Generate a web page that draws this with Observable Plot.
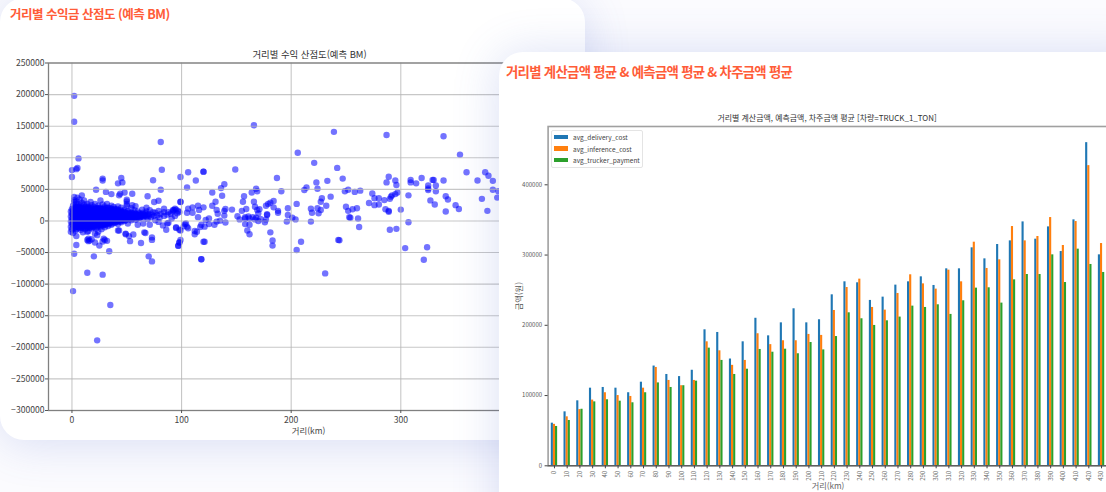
<!DOCTYPE html>
<html lang="ko">
<head>
<meta charset="utf-8">
<script src="https://cdn.jsdelivr.net/npm/d3@7"></script>
<script src="https://cdn.jsdelivr.net/npm/@observablehq/plot@0.6"></script>
<style>
  html, body { margin: 0; padding: 0; }
  body { width: 1106px; height: 492px; overflow: hidden; position: relative; background: #fbfbfe;
         font-family: "Noto Sans CJK KR", "Noto Sans", sans-serif; }
  .card { position: absolute; background: #fff; border-radius: 24px; }
  #cardA { left: 0; top: -2px; width: 585px; height: 442px; box-shadow: 0 4px 46px rgba(80,105,205,.2); z-index: 1; }
  #cardB { left: 499px; top: 52px; width: 660px; height: 500px; box-shadow: -2px 0 46px rgba(80,105,205,.2); z-index: 3; }
  .heading { position: absolute; color: #ff5c38; font-weight: 700; white-space: nowrap; line-height: 1; }
  #headA { left: 10px; top: 8px; font-size: 12.5px; letter-spacing: -0.5px; z-index: 2; }
  #headB { left: 506px; top: 65px; font-size: 13.4px; letter-spacing: -0.72px; z-index: 4; }
  .chartTitle { position: absolute; color: #333; white-space: nowrap; line-height: 1; transform: translateX(-50%); }
  #titleA { left: 309.5px; top: 50px; font-size: 9.4px; z-index: 2; }
  #titleB { left: 827px; top: 114px; font-size: 7.95px; z-index: 4; }
  #plotA { position: absolute; left: 0; top: 40px; z-index: 2; }
  #plotB { position: absolute; left: 500px; top: 100px; z-index: 4; }
  #plotA svg, #plotB svg { display: block; max-width: none; background: transparent; }
  #legend { position: absolute; left: 551px; top: 130px; width: 90px; height: 36px; border: 1px solid #e4e4e4; border-radius: 2px;
            background: #fff; z-index: 5; font-size: 6.5px; color: #444; }
  #legend .row { position: absolute; left: 2px; height: 8px; display: flex; align-items: center; gap: 5px; white-space: nowrap; }
  #legend .sw { width: 14px; height: 4.5px; display: inline-block; }
</style>
</head>
<body>
<div class="card" id="cardA"></div>
<div class="card" id="cardB"></div>
<div class="heading" id="headA">거리별 수익금 산점도 (예측 BM)</div>
<div class="heading" id="headB">거리별 계산금액 평균 &amp; 예측금액 평균 &amp; 차주금액 평균</div>
<div class="chartTitle" id="titleA">거리별 수익 산점도(예측 BM)</div>
<div class="chartTitle" id="titleB">거리별 계산금액, 예측금액, 차주금액 평균 [차량=TRUCK_1_TON]</div>
<div id="plotA"></div>
<div id="plotB"></div>
<div id="legend"></div>
<script>
// ---- scatter: [distance km, profit won] ----
const outlierPoints = [
  [2,198000],[2,157000],[6,99000],[81,125000],[82,81000],[0,80500],[4,82000],[5,84000],[0,69500],
  [28,67000],[28,64000],[22,49500],[45,68000],[42,59500],[46,61000],[31,46000],[36,42500],[43,40500],[44,43000],
  [48,45000],[55,43000],[50,33500],[50,31000],[69,39000],[74,64500],[81,49500],[75,30000],[79,32000],[99,69500],
  [105,53000],[106,77000],[113,64000],[120,78000],[99,30000],[149,81500],
  [4,-38000],[2,-52000],[20,-56000],[34,-48000],[14,-82000],[28,-85000],[1,-111000],[35,-133000],[23,-189000],
  [53,-32000],[63,-35000],[70,-56000],[73,-64000],[73,-30000],[97,-39500],[98,-34000],[118,-60500],[121,-33000],
  [14,-30000],[18,-29000],[21,-34000],[25,-39000],[28,-32500],[30,-30000],[32,-31500],[15,-32000],[16,-31000],
  [4,-24000],[15,-28000],[29,-28000],[73,-26000],[99,-30000],[14,-17000],[23,-22500],[42,-15000],[49,-21000],
  [56,-21500],[52,-24000],[66,-18000],[86,-14000],[95,-11000],[99,-15000],[112,-16000],[117,-9500],[104,-4000],
  [102,-8500],[79,-1500],[87,-4000],[67,-19000],[43,-15000],[49,-20000]
];
const denseCore = [
  [-1,-17000],[0,-13000],[1,-19000],[3,-15000],[-1,-9000],[0,-5000],[-1,-1000],[0,3000],[-1,7000],[0,11000],[-1,15000],[0,19000],[1,24000],[2,30000],[2,38000],[2,33000],[5,37000],[9,40500],
  [1,-8000],[2,-11000],[2,-4000],[1,0],[2,5000],[1,9000],[2,13000],[1,17000],[3,22000],[4,27000],[4,31000],[7,34000],
  [3,-7000],[4,-13000],[3,-2000],[4,2000],[3,6000],[4,10000],[3,14000],[4,18000],[6,22000],[6,26000],
  [6,-10000],[5,-5000],[6,-1000],[5,3000],[6,7000],[5,11000],[6,15000],[7,19000],[8,24000],[9,29000],[11,32500],
  [8,-14000],[7,-8000],[8,-3000],[7,1000],[8,5000],[7,9000],[8,13000],[9,17000],[10,21000],[11,26000],
  [10,-18000],[9,-11000],[10,-6000],[9,-1000],[10,3000],[9,7000],[10,11000],[11,15000],[12,19000],[13,23000],[17,30000],
  [12,-13000],[12,-8000],[11,-3000],[12,2000],[11,6000],[12,10000],[13,14000],[14,18000],[15,22000],[14,27000],
  [15,-16000],[14,-10000],[15,-5000],[14,0],[15,4000],[14,8000],[15,12000],[16,16000],[17,20000],[18,25000],
  [18,-12000],[17,-7000],[18,-2000],[17,2000],[18,6000],[17,10000],[18,14000],[19,18000],[20,22000],[21,27000],[26,32500],
  [21,-20000],[20,-10000],[21,-5000],[20,-1000],[21,4000],[20,8000],[21,12000],[22,16000],[23,20000],[24,24000],
  [24,-17000],[23,-9000],[24,-3000],[23,1000],[24,5000],[23,9000],[24,13000],[25,17000],[26,21000],[28,26000],
  [27,-13000],[26,-6000],[27,-1000],[26,3000],[27,7000],[26,11000],[27,15000],[28,19000],[30,23000],[32,27000],
  [30,-10000],[29,-4000],[30,1000],[29,5000],[30,9000],[29,13000],[31,17000],[33,21000],[36,24000],
  [33,-8000],[32,-2000],[33,2000],[32,6000],[33,10000],[34,14000],[35,18000],[38,22000],
  [36,-6000],[35,0],[36,4000],[35,8000],[36,12000],[37,15000],[39,19000],[42,23000],
  [39,-3000],[38,2000],[39,6000],[38,10000],[40,13000],[42,17000],[45,21000],
  [42,-5000],[41,1000],[42,5000],[41,9000],[43,12000],[45,15000],[48,18000],[50,24000],[50,27000],
  [45,-2000],[44,3000],[45,7000],[46,10000],[48,13000],[51,16000],[54,20000],[58,23500],[55,25000],
  [48,0],[47,4000],[49,8000],[51,11000],[54,13000],[57,17000],[60,15000],
  [51,-4000],[50,3000],[52,6000],[55,9000],[58,11000],[61,12000],[64,18000],[68,21000],
  [54,1000],[56,5000],[59,7000],[62,9000],[65,13000],[68,15000],[71,17000],[74,14000],
  [58,2000],[61,4000],[64,7000],[67,9000],[70,11000],[73,10000],[76,13000],[79,16000],
  [60,-6000],[65,-4000],[69,3000],[72,6000],[75,8000],[78,9000],[81,11000],[84,14000],[84,19500],
  [71,-6000],[76,1000],[80,5000],[84,8000],[87,10000],[90,11500],[88,14000],[92,15000],[94,19500],
  [83,-7000],[88,-3000],[91,4000],[94,8000],[96,12000],[97,16000],[93,17500],[95,18000],[92,17000],[98,14000]
];
const denseFill = [
  [1,-3000],[1,2000],[1,6000],[1,11000],[1,15000],[2,-7000],[2,-1000],[2,3000],[2,8000],[2,11000],[2,16000],[2,20000],
  [3,-10000],[3,-5000],[3,0],[3,4000],[3,8000],[3,12000],[3,16000],[3,20000],[4,-9000],[4,-3000],[4,5000],[4,8000],[4,13000],[4,15000],[4,22000],
  [5,-9000],[5,-1000],[5,6000],[5,9000],[5,14000],[5,17000],[5,21000],[6,-7000],[6,-3000],[6,3000],[6,5000],[6,10000],[6,13000],[6,18000],
  [7,-11000],[7,-5000],[7,-2000],[7,4000],[7,7000],[7,12000],[7,15000],[7,22000],[8,-9000],[8,-1000],[8,2000],[8,7000],[8,11000],[8,15000],[8,19000],
  [9,-8000],[9,-4000],[9,2000],[9,5000],[9,10000],[9,13000],[9,20000],[10,-10000],[10,-3000],[10,1000],[10,6000],[10,9000],[10,14000],[10,18000],
  [11,-9000],[11,-6000],[11,0],[11,4000],[11,9000],[11,12000],[11,18000],[12,-5000],[12,-1000],[12,5000],[12,8000],[12,13000],[12,16000],[12,22000],
  [13,-11000],[13,-6000],[13,-2000],[13,3000],[13,7000],[13,11000],[13,16000],[13,20000],[14,-7000],[14,-3000],[14,3000],[14,6000],[14,11000],[14,15000],
  [15,-8000],[15,-2000],[15,1000],[15,6000],[15,10000],[15,15000],[15,19000],[16,-11000],[16,-4000],[16,0],[16,3000],[16,8000],[16,12000],[16,20000],
  [17,-9000],[17,-4000],[17,5000],[17,8000],[17,13000],[17,17000],[18,-8000],[18,-5000],[18,1000],[18,4000],[18,9000],[18,12000],[18,17000],[18,21000],
  [19,-10000],[19,-3000],[19,0],[19,5000],[19,8000],[19,13000],[19,15000],[20,-6000],[20,-3000],[20,2000],[20,6000],[20,10000],[20,14000],[20,18000],
  [21,-8000],[21,-2000],[21,2000],[21,7000],[21,10000],[21,15000],[21,19000],[22,-12000],[22,-6000],[22,-1000],[22,3000],[22,7000],[22,11000],[22,14000],[22,20000],
  [23,-5000],[23,-2000],[23,4000],[23,7000],[23,12000],[23,15000],[24,-7000],[24,-1000],[24,3000],[24,8000],[24,11000],[24,16000],[24,19000],
  [25,-8000],[25,-3000],[25,1000],[25,6000],[25,10000],[25,14000],[25,20000],[26,-9000],[26,-2000],[26,1000],[26,6000],[26,9000],[26,14000],[26,18000],
  [27,-4000],[27,2000],[27,5000],[27,10000],[27,13000],[27,18000],[28,-7000],[28,-2000],[28,3000],[28,8000],[28,11000],[28,16000],
  [29,-6000],[29,-1000],[29,2000],[29,7000],[29,10000],[29,15000],[29,19000],[30,-5000],[30,-2000],[30,4000],[30,7000],[30,12000],[30,15000],[30,20000],
  [31,-6000],[31,0],[31,3000],[31,8000],[31,11000],[31,14000],[32,-4000],[32,2000],[32,4000],[32,9000],[32,12000],[32,16000],[32,20000],
  [33,-3000],[33,0],[33,5000],[33,8000],[33,13000],[33,16000],[34,-5000],[34,1000],[34,4000],[34,8000],[34,11000],[34,17000],
  [35,-3000],[35,3000],[35,6000],[35,11000],[35,15000],[35,20000],[36,-1000],[36,2000],[36,7000],[36,10000],[36,15000],[36,19000],
  [37,-4000],[37,1000],[37,5000],[37,9000],[37,12000],[37,18000],[38,-1000],[38,4000],[38,7000],[38,12000],[38,16000],
  [39,1000],[39,4000],[39,9000],[39,12000],[39,16000],[40,-2000],[40,3000],[40,6000],[40,10000],[40,15000],[40,18000],
  [41,-1000],[41,4000],[41,7000],[41,11000],[41,14000],[41,19000],[42,2000],[42,7000],[42,10000],[42,14000],
  [43,0],[43,4000],[43,8000],[43,10000],[43,15000],[44,-1000],[44,5000],[44,9000],[44,13000],[44,17000],
  [45,2000],[45,5000],[45,10000],[45,12000],[46,1000],[46,4000],[46,7000],[46,13000],[47,2000],[47,7000],[47,10000],[47,15000],
  [48,3000],[48,6000],[48,9000],[49,1000],[49,5000],[49,11000],[49,14000],[50,6000],[50,9000],[50,12000],[51,4000],[51,7000],[52,3000],[52,9000],[52,13000],
  [53,5000],[53,8000],[53,11000],[54,4000],[54,7000],[54,10000],[55,3000],[55,6000],[55,12000],[56,8000],[56,11000],[57,5000],[57,9000],[57,13000],
  [58,7000],[59,4000],[59,10000],[60,6000],[60,9000],[61,8000],[62,5000],[62,12000],[63,7000],[63,10000],[64,9000],[65,6000],[65,11000],[66,8000],[67,12000],[68,7000],[69,10000],[70,8000]
];
const midPoints = [
  [166,151500],[239,141000],[206,108000],[221,92000],[242,84000],[120,78000],[136,52000],[128,45000],[137,40000],[139,58000],
  [187,68000],[191,47000],[168,51000],[164,45000],[169,47000],[157,39000],[156,30500],[166,30500],
  [99,30500],[131,30500],[128,24000],[115,24000],[110,21500],[116,17500],[120,21500],[106,19500],[105,13000],[110,13000],
  [132,17500],[133,11500],[140,19000],[139,16000],[146,18000],[139,8500],[155,16000],[159,19000],[151,7500],
  [167,22500],[169,17500],[171,18500],[170,12000],[177,24000],[179,27000],[181,29000],[184,31500],[184,21500],[188,16000],[188,13000],
  [197,20000],[197,9500],[201,5000],[204,2500],[196,-1000],[205,27000],
  [214,53000],[212,49000],[223,61000],[224,51000],[233,63500],[228,36000],[227,30500],[236,38500],[232,24000],
  [218,19500],[219,13000],[224,20000],[225,12000],[227,17500],[218,-1000],
  [95,-10000],[98,-14000],[98,-34000],[97,-39000],[120,-33000],[118,-60500],
  [112,-21000],[114,-17000],[118,-6000],[121,-9000],[103,-5000],[105,-9000],[106,-11500],
  [125,4000],[122,1500],[125,-5000],[130,-6000],[132,-1000],[135,500],[140,-2500],[115,6000],
  [153,2500],[158,4000],[161,7000],[162,-6000],[158,-5000],[160,-15000],[162,-21000],
  [167,2500],[170,0],[177,2500],[176,-2000],[178,10500],[178,9500],
  [181,-18000],[183,-31000],[183,-39000],[209,-33000],[205,-46000],[231,-83000],[243,-30000],[244,-30500],
  [158,6000],[162,4000],[165,6000],[168,5000],[172,3000]
];
const farPoints = [
  [287,136000],[339,134000],[354,105000],[360,77000],[377,77000],[380,71500],[384,63500],[370,64000],
  [384,49500],[389,47000],[388,37000],[374,35000],[379,16000],
  [247,67000],[249,47000],[252,49500],[258,46000],[263,48000],
  [250,22500],[252,16000],[256,18500],[260,20000],[253,6000],[254,5000],[261,4000],[262,-9500],
  [274,43500],[271,28500],[276,25000],[276,36000],[280,36000],[280,26000],[285,33000],
  [286,18500],[289,16000],[289,14500],[289,70000],[287,61000],[295,64000],[296,57000],
  [290,35000],[292,40500],[295,42500],[297,45000],[291,38500],[307,40500],[300,18000],[307,-2000],[290,-14000],[296,-12500],
  [309,65000],[309,61000],[314,59500],[319,68000],[329,65000],[330,65000],[325,56000],[325,51500],[325,49000],[332,56000],[332,47000],[339,64000],
  [327,32500],[331,26000],[341,39000],[343,34000],[350,25000],[353,19000],[341,15000],
  [304,-43000],[324,-41500],[321,-61500]
];
const scatterYTicks = [250000,200000,150000,100000,50000,0,-50000,-100000,-150000,-200000,-250000,-300000];
const scatterXTicks = [0,100,200,300,400];

// ---- bars ----
const kmBins = [0,10,20,30,40,50,60,70,80,90,100,110,120,130,140,150,160,170,180,190,200,210,220,230,240,250,260,270,280,290,300,310,320,330,340,350,360,370,380,390,400,410,420,430];
const avgDeliveryCost = [60700,76800,92500,110500,111500,110500,104000,119000,142000,130000,127000,136000,193600,189800,152000,176500,210000,185000,203500,223500,203500,207900,243400,261900,260500,235400,240100,257200,261900,269000,256700,280400,280400,310300,294600,315000,320200,347200,322600,340100,305000,350100,460000,300300];
const avgInferenceCost = [59000,69700,80000,93500,104000,100000,98700,110500,140000,121500,114000,121500,176500,163700,143000,150000,188000,172500,178000,178000,187000,185600,221100,253800,265700,225400,221600,245300,271900,259000,251500,278500,261900,318300,280900,293200,340600,320200,326400,353400,313600,347700,427300,316400];
const avgTruckerPayment = [56000,64500,80500,91000,94000,92000,89700,104000,118000,111500,114000,120500,167500,150000,130000,137500,165600,161700,166000,159500,175500,165000,184000,217800,209300,199800,206400,211700,227300,225400,229200,215500,234900,252900,253400,231600,264700,272300,272300,300300,260900,308400,286600,275200];
const barYTicks = [0,100000,200000,300000,400000];
const seriesNames = ["avg_delivery_cost","avg_inference_cost","avg_trucker_payment"];
const seriesColors = ["#1f77b4","#ff7f0e","#2ca02c"];

const fontCJK = '"Noto Sans CJK KR", "Noto Sans", sans-serif';
const minus = d => String(d).replace("-", "\u2212");

const scatter = [...outlierPoints, ...denseCore, ...denseFill, ...midPoints, ...farPoints].map(([km, won]) => ({km, won}));

document.getElementById("plotA").append(Plot.plot({
  width: 600, height: 410, marginLeft: 48, marginRight: 32, marginTop: 22.5, marginBottom: 40,
  style: {background: "transparent", fontFamily: fontCJK, fontSize: "8.6px", color: "#444"},
  x: {domain: [-21.4, 453], label: null},
  y: {domain: [-300000, 250000], label: null},
  marks: [
    Plot.dot(scatter, {x: "km", y: "won", r: 3.2, fill: "#0000ff", fillOpacity: 0.55, stroke: "none"}),
    Plot.gridX(scatterXTicks, {stroke: "#b4b4b4", strokeOpacity: 0.75, strokeWidth: 1.1}),
    Plot.gridY(scatterYTicks, {stroke: "#b4b4b4", strokeOpacity: 0.75, strokeWidth: 1.1}),
    Plot.frame({stroke: "#808080", strokeWidth: 1.3}),
    Plot.axisX(scatterXTicks, {tickSize: 3, tickPadding: 3, stroke: "#555", fill: "#444", label: "거리(km)", labelAnchor: "center", labelArrow: "none", labelOffset: 23}),
    Plot.axisY(scatterYTicks, {tickSize: 3, tickPadding: 1, stroke: "#555", fill: "#444", tickFormat: minus, label: null})
  ]
}));

const barRows = (vals, series) => vals.map((v, i) => ({km: String(kmBins[i]), v, series}));
const barDx = [-2.12, 0, 2.12];
const barSeries = [avgDeliveryCost, avgInferenceCost, avgTruckerPayment];

document.getElementById("plotB").append(Plot.plot({
  width: 620, height: 392, marginLeft: 47.6, marginRight: 12.6, marginTop: 26, marginBottom: 26.7,
  style: {background: "transparent", fontFamily: fontCJK, fontSize: "6px", color: "#444"},
  x: {domain: kmBins.map(String), paddingInner: 0.8333, paddingOuter: 0.41665, round: false, label: null},
  y: {domain: [0, 483000], label: null},
  marks: [
    ...barSeries.map((vals, i) => Plot.barY(barRows(vals, seriesNames[i]), {x: "km", y: "v", fill: seriesColors[i], dx: barDx[i]})),
    Plot.frame({stroke: "#a0a0a0", strokeWidth: 1.6}),
    Plot.ruleY([0], {stroke: "#444", strokeWidth: 1}),
    Plot.axisX({tickRotate: -90, tickSize: 3, tickPadding: 2, stroke: "#444", fill: "#666", label: "거리(km)", labelAnchor: "center", labelArrow: "none", labelOffset: 23, fontSize: 6}),
    Plot.axisY(barYTicks, {tickSize: 3, tickPadding: 3, stroke: "#444", fill: "#555", tickFormat: d => String(d), label: "금액(원)", labelAnchor: "center", labelArrow: "none", labelOffset: 32})
  ]
}));

// axis-title sizes
for (const [id, size] of [["plotA", "8.4px"], ["plotB", "8.2px"]]) {
  const axisTexts = document.querySelectorAll(`#${id} svg text`);
  axisTexts.forEach(t => { if (/km|원/.test(t.textContent)) t.style.fontSize = size; });
}

const legend = document.getElementById("legend");
seriesNames.forEach((name, i) => {
  const row = document.createElement("div");
  row.className = "row";
  row.style.top = (2 + i * 11.6) + "px";
  const sw = document.createElement("span");
  sw.className = "sw";
  sw.style.background = seriesColors[i];
  const label = document.createElement("span");
  label.textContent = name;
  row.append(sw, label);
  legend.append(row);
});
</script>
</body>
</html>
